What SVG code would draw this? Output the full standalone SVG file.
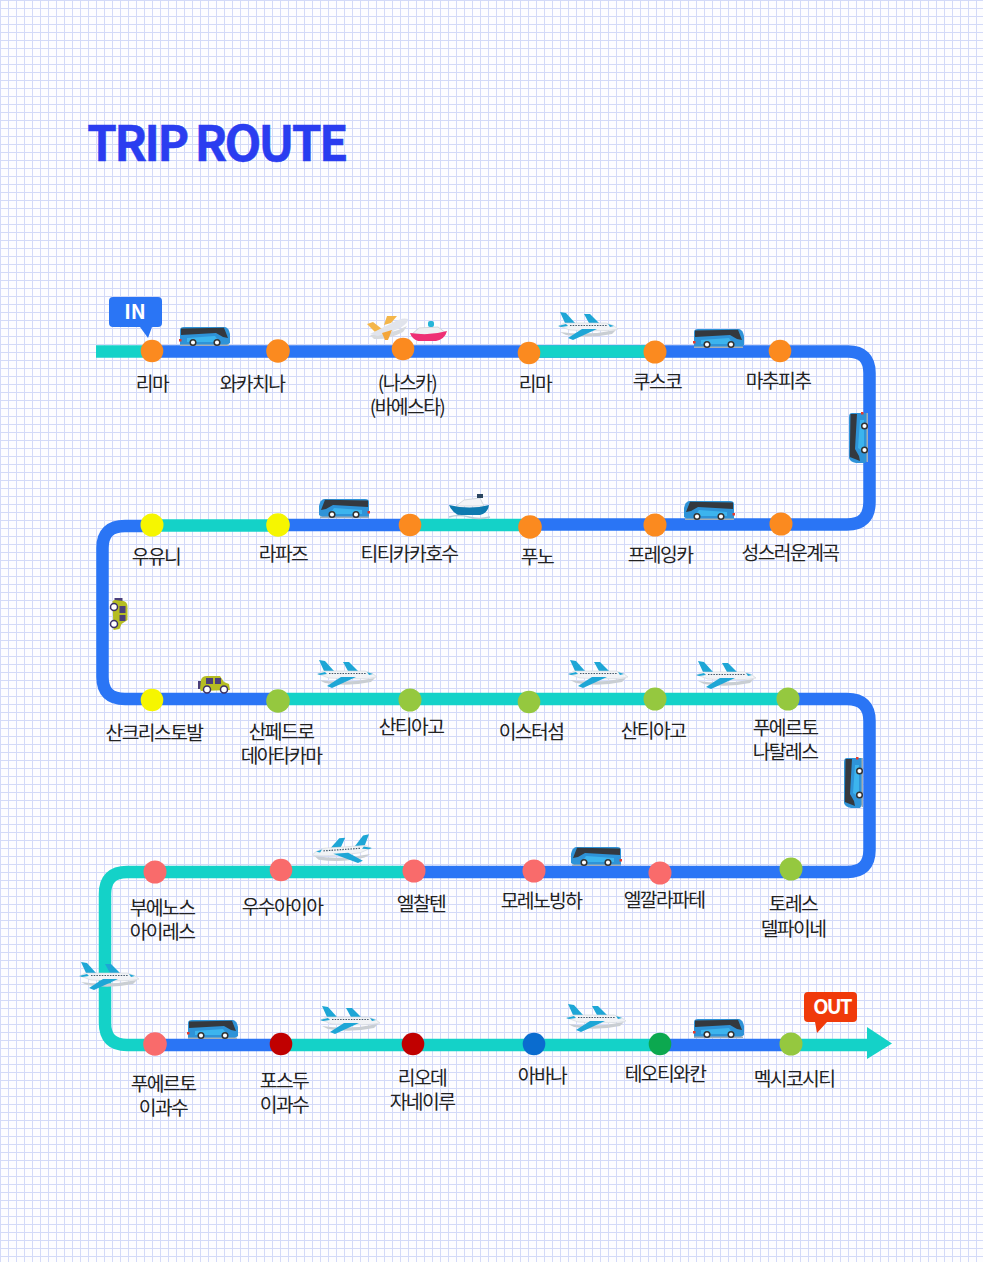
<svg xmlns="http://www.w3.org/2000/svg" xmlns:xlink="http://www.w3.org/1999/xlink" width="983" height="1262" viewBox="0 0 983 1262">
<style>
.lbl{font-family:"Noto Sans CJK KR","Noto Sans",sans-serif;font-size:19.3px;letter-spacing:-1.6px;fill:#222;text-anchor:middle}
.tag{font-family:"Noto Sans CJK KR","Noto Sans",sans-serif;font-weight:700;fill:#fff;text-anchor:middle}
.title{font-family:"Noto Sans CJK KR","Noto Sans",sans-serif;font-weight:700;font-size:48px;letter-spacing:-2.8px;fill:#2a3df0;stroke:#2a3df0;stroke-width:.5}
.blue{fill:none;stroke:#2a75f5;stroke-width:12.5}
.teal{fill:none;stroke:#14d2c8;stroke-width:12.5}
.orange{fill:#fb8a1f}.yellow{fill:#f6f600}.lime{fill:#95c83f}.coral{fill:#f96b6b}.crimson{fill:#c00000}.navy{fill:#0a6ccf}.green{fill:#0ca84f}
</style>
<defs>
<pattern id="grid" width="8" height="8" patternUnits="userSpaceOnUse">
<rect width="8" height="8" fill="#fdfdff"/>
<rect width="8" height="1" fill="#d3daf8"/>
<rect width="1" height="8" fill="#d3daf8"/>
</pattern>
<g id="bus">
<path d="M1,19 L1,4 Q1,1 5,1 L46,1 Q50,2 51,8 L51,17 L48,19 Z" fill="#2e93d8"/>
<path d="M2,2.500 L45,1.800 L49,12 L44,11 L37,7 L2,9 Z" fill="#34393f"/>
<path d="M8,12 L36,10 L40,16 L8,16 Z" fill="#3cb4ee"/>
<rect x="0" y="13" width="2.500" height="2.500" fill="#e63a2a"/>
<rect x="1" y="18.500" width="49" height="1.500" fill="#a3aeb8"/>
<circle cx="14" cy="16.500" r="2.800" fill="#fff" stroke="#333" stroke-width="1.500"/>
<circle cx="38" cy="16.500" r="2.800" fill="#fff" stroke="#333" stroke-width="1.500"/>
</g>
<g id="plane">
<path d="M2,20 Q30,24 58,18 L54,22 Q30,27 8,23 Z" fill="#c9ced3"/>
<path d="M2,0 L8,1 L17,11 L7,11 Z" fill="#1ea6d6"/>
<path d="M26,2 L32,2 L41,11 L31,11 Z" fill="#1ea6d6"/>
<path d="M1,14 L6,11 L48,11 Q57,13 60,17 Q50,20 12,18 Z" fill="#f1f3f6" stroke="#cfd4da" stroke-width=".6"/>
<path d="M0,14 L8,12 L10,14 L3,15 Z" fill="#1ea6d6"/>
<path d="M50,12 L56,14 L52,15 Z" fill="#1ea6d6"/>
<path d="M24,17 L39,17 L15,28 L10,26 Z" fill="#1ea6d6"/>
<line x1="12" y1="13.500" x2="49" y2="13.500" stroke="#44586a" stroke-width="1.200" stroke-dasharray="1.500 1.200"/>
</g>
<g id="car">
<rect x="1" y="5" width="4" height="8" fill="#4a3f7a"/>
<path d="M3,13 L4,4 Q5,0 10,0 L23,0 L27,6 L32,8 L33,14 L4,15 Z" fill="#b5bd22"/>
<rect x="9" y="2" width="7" height="6" fill="#4a3f7a"/>
<rect x="18" y="2" width="6" height="6" fill="#4a3f7a"/>
<circle cx="10" cy="13.500" r="3.500" fill="#fff" stroke="#3a2f66" stroke-width="1.500"/>
<circle cx="27" cy="13.500" r="3.500" fill="#fff" stroke="#3a2f66" stroke-width="1.500"/>
</g>
</defs>
<rect id="background" width="983" height="1262" fill="url(#grid)"/>
<text class="title" x="87" y="161">TRIP ROUTE</text>
<g id="connectors">
<path class="blue" d="M152,351.500 H848 Q869.500,351.500 869.500,373 V502 Q869.500,524.500 847,524.500 H530"/>
<path class="blue" d="M410,525 H278"/>
<path class="blue" d="M152,526 H125 Q102.500,526 102.500,548 V677 Q102.500,699 125,699 H278"/>
<path class="blue" d="M788,699 H847 Q869.500,699 869.500,721 V850 Q869.500,872 847,872 H414"/>
<path class="blue" d="M155,1045 H281"/>
<path class="blue" d="M660,1045 H791"/>
<path class="teal" d="M96,351.500 H152"/>
<path class="teal" d="M529,351.500 H655"/>
<path class="teal" d="M530,525 H410"/>
<path class="teal" d="M278,525.500 H152"/>
<path class="teal" d="M278,699 H788"/>
<path class="teal" d="M414,872 H127 Q105,872 105,894 V1023 Q105,1045 127,1045 H155"/>
<path class="teal" d="M281,1045 H660"/>
<path class="teal" d="M791,1045 H870"/>
<path id="arrowhead" d="M867,1027 L892,1043.500 L867,1059 Z" fill="#14d2c8"/>
</g>
<g id="vehicles">
<use xlink:href="#bus" href="#bus" x="179" y="326"/>
<use xlink:href="#bus" href="#bus" x="693" y="328"/>
<use xlink:href="#bus" href="#bus" transform="matrix(0 1 1 0 848 412)"/>
<use xlink:href="#bus" href="#bus" transform="translate(735,500) scale(-1,1)"/>
<use xlink:href="#bus" href="#bus" transform="translate(370,498) scale(-1,1)"/>
<use xlink:href="#bus" href="#bus" transform="matrix(0 1 1 0 843 757)"/>
<use xlink:href="#bus" href="#bus" transform="translate(622,846) scale(-1,1)"/>
<use xlink:href="#bus" href="#bus" x="187" y="1019"/>
<use xlink:href="#bus" href="#bus" x="693" y="1018"/>
<use xlink:href="#plane" href="#plane" x="558" y="312"/>
<use xlink:href="#plane" href="#plane" x="317" y="660"/>
<use xlink:href="#plane" href="#plane" x="568" y="660"/>
<use xlink:href="#plane" href="#plane" x="696" y="661"/>
<use xlink:href="#plane" href="#plane" transform="translate(371,834) scale(-1,1) rotate(4)"/>
<use xlink:href="#plane" href="#plane" x="79" y="962"/>
<use xlink:href="#plane" href="#plane" x="320" y="1006"/>
<use xlink:href="#plane" href="#plane" x="566" y="1004"/>
<use xlink:href="#car" href="#car" x="197" y="676"/>
<use xlink:href="#car" href="#car" transform="matrix(0 1 -1 0 127.500 597)"/>
<g id="yellow-plane">
<path d="M370,335 Q390,335 407,326 L403,332 Q388,340 374,339 Z" fill="#d7dade"/>
<path d="M367,324 L373,322 L382,329 L375,332 Z" fill="#f4b64a"/>
<path d="M384,325 L387,316 L397,316 L391,323 Z" fill="#f4b64a"/>
<path d="M370,334 L392,323 Q402,317 408,319 Q408,324 398,329 L378,336 Z" fill="#e1e4ec"/>
<path d="M382,333 L392,330 L388,340 L385,340 Z" fill="#f4a63a"/>
</g>
<g id="pink-boat">
<path d="M412,334 L419,328 L438,327 L446,333 L438,335 Z" fill="#eef0f3" stroke="#c9ced3" stroke-width=".8"/>
<rect x="428" y="321" width="6" height="6" rx="2" fill="#25b5d8"/>
<path d="M410,333 Q430,336 447,331 Q445,339 436,341 L418,341 Q412,339 410,333 Z" fill="#ee2f74"/>
</g>
<g id="blue-boat">
<path d="M456,506 L464,500 L480,498 L484,506 Z" fill="#f2f4f7" stroke="#ccd2d8" stroke-width=".8"/>
<rect x="477" y="494" width="6" height="4" fill="#2b4660"/>
<path d="M449,505 Q470,510 489,505 Q488,513 480,515 L458,515 Q452,512 449,505 Z" fill="#0e7ab0"/>
<path d="M449,517 Q459,514 469,517 T490,517" fill="none" stroke="#b9cdd9" stroke-width="1.500"/>
</g>
</g>
<g id="tag-in"><path d="M113,297 H158 Q162,297 162,301 V323 Q162,327 158,327 H152 L148,338 L140,327 H113 Q109,327 109,323 V301 Q109,297 113,297 Z" fill="#2a75f5"/><text class="tag" x="135" y="319" font-size="20">IN</text></g>
<g id="tag-out"><path d="M808,992 H853 Q857,992 857,996 V1018 Q857,1022 853,1022 H827 L817,1033 L815,1022 H808 Q804,1022 804,1018 V996 Q804,992 808,992 Z" fill="#f03a0a"/><text class="tag" x="832" y="1014" font-size="20" letter-spacing="-1.800">OUT</text></g>
<g id="n01"><circle class="orange" cx="152" cy="351" r="11.300"/><text class="lbl" x="152" y="391">리마</text></g>
<g id="n02"><circle class="orange" cx="278" cy="351" r="11.800"/><text class="lbl" x="252" y="391">와카치나</text></g>
<g id="n03"><circle class="orange" cx="403" cy="349" r="11.300"/><text class="lbl" x="407" y="390">(나스카)</text><text class="lbl" x="407" y="414">(바에스타)</text></g>
<g id="n04"><circle class="orange" cx="529" cy="353" r="11.300"/><text class="lbl" x="535" y="391">리마</text></g>
<g id="n05"><circle class="orange" cx="655" cy="352" r="11.500"/><text class="lbl" x="657" y="389">쿠스코</text></g>
<g id="n06"><circle class="orange" cx="780" cy="351" r="11.300"/><text class="lbl" x="778" y="388">마추피추</text></g>
<g id="n07"><circle class="yellow" cx="152" cy="525" r="11.500"/><text class="lbl" x="156" y="564">우유니</text></g>
<g id="n08"><circle class="yellow" cx="278" cy="525" r="11.800"/><text class="lbl" x="283" y="561">라파즈</text></g>
<g id="n09"><circle class="orange" cx="410" cy="525" r="11.300"/><text class="lbl" x="409" y="561">티티카카호수</text></g>
<g id="n10"><circle class="orange" cx="530" cy="527" r="11.800"/><text class="lbl" x="537" y="564">푸노</text></g>
<g id="n11"><circle class="orange" cx="655" cy="525" r="11.500"/><text class="lbl" x="660" y="562">프레잉카</text></g>
<g id="n12"><circle class="orange" cx="781" cy="524" r="11.500"/><text class="lbl" x="790" y="560">성스러운계곡</text></g>
<g id="n13"><circle class="yellow" cx="152" cy="700" r="11.300"/><text class="lbl" x="154" y="740">산크리스토발</text></g>
<g id="n14"><circle class="lime" cx="278" cy="701" r="11.800"/><text class="lbl" x="281" y="739">산페드로</text><text class="lbl" x="281" y="763">데아타카마</text></g>
<g id="n15"><circle class="lime" cx="410" cy="700" r="11.500"/><text class="lbl" x="411" y="734">산티아고</text></g>
<g id="n16"><circle class="lime" cx="529" cy="702" r="11.300"/><text class="lbl" x="531" y="739">이스터섬</text></g>
<g id="n17"><circle class="lime" cx="655" cy="699" r="11.500"/><text class="lbl" x="653" y="738">산티아고</text></g>
<g id="n18"><circle class="lime" cx="788" cy="699" r="11.500"/><text class="lbl" x="785" y="735">푸에르토</text><text class="lbl" x="785" y="759">나탈레스</text></g>
<g id="n19"><circle class="coral" cx="155" cy="872" r="11.500"/><text class="lbl" x="162" y="915">부에노스</text><text class="lbl" x="162" y="939">아이레스</text></g>
<g id="n20"><circle class="coral" cx="281" cy="870" r="11.300"/><text class="lbl" x="282" y="914">우수아이아</text></g>
<g id="n21"><circle class="coral" cx="414" cy="871" r="11.500"/><text class="lbl" x="421" y="911">엘찰텐</text></g>
<g id="n22"><circle class="coral" cx="534" cy="871" r="11.500"/><text class="lbl" x="541" y="908">모레노빙하</text></g>
<g id="n23"><circle class="coral" cx="660" cy="873" r="11.500"/><text class="lbl" x="664" y="907">엘깔라파테</text></g>
<g id="n24"><circle class="lime" cx="791" cy="869" r="11.500"/><text class="lbl" x="793" y="911">토레스</text><text class="lbl" x="793" y="936">델파이네</text></g>
<g id="n25"><circle class="coral" cx="155" cy="1044" r="11.800"/><text class="lbl" x="163" y="1091">푸에르토</text><text class="lbl" x="163" y="1115">이과수</text></g>
<g id="n26"><circle class="crimson" cx="281" cy="1044" r="11.300"/><text class="lbl" x="284" y="1088">포스두</text><text class="lbl" x="284" y="1112">이과수</text></g>
<g id="n27"><circle class="crimson" cx="413" cy="1044" r="11.300"/><text class="lbl" x="422" y="1085">리오데</text><text class="lbl" x="422" y="1109">자네이루</text></g>
<g id="n28"><circle class="navy" cx="534" cy="1044" r="11.300"/><text class="lbl" x="542" y="1083">아바나</text></g>
<g id="n29"><circle class="green" cx="660" cy="1044" r="11.300"/><text class="lbl" x="665" y="1081">테오티와칸</text></g>
<g id="n30"><circle class="lime" cx="791" cy="1044" r="11.500"/><text class="lbl" x="794" y="1086">멕시코시티</text></g>
</svg>
